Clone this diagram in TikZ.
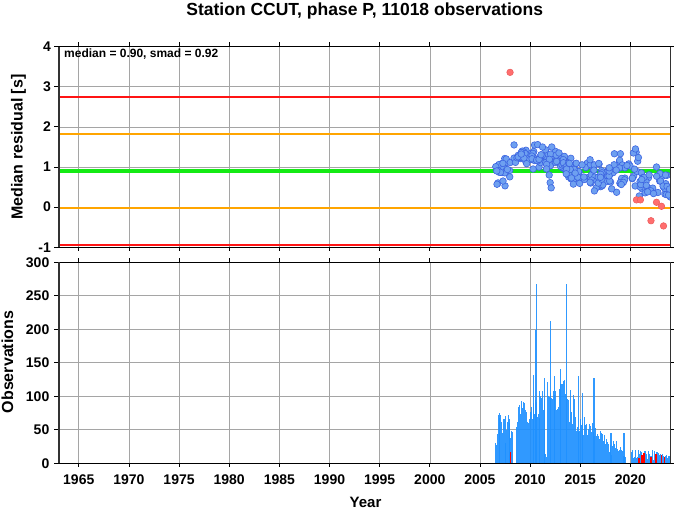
\documentclass[tikz,border=0pt]{standalone}
\usepackage{fontspec}
\setmainfont{Liberation Sans}
\definecolor{gridgray}{RGB}{165,165,165}
\definecolor{thrred}{RGB}{255,20,20}
\definecolor{throrange}{RGB}{255,165,0}
\definecolor{thrgreen}{RGB}{20,235,20}
\definecolor{ptfill}{RGB}{110,160,240}
\definecolor{ptedge}{RGB}{60,100,225}
\definecolor{rpfill}{RGB}{255,110,110}
\definecolor{rpedge}{RGB}{235,90,90}
\definecolor{barblue}{RGB}{30,144,255}
\definecolor{framegray}{RGB}{50,50,50}
\tikzset{
  gridline/.style={draw=gridgray, line width=0.6pt},
  tickline/.style={draw=black, line width=0.8pt},
  ticklab/.style={font=\fontsize{14}{14}\selectfont\bfseries, inner sep=0pt},
  axlab/.style={font=\fontsize{16}{16}\selectfont\bfseries, inner sep=0pt},
  thrline/.style={line width=2pt},
  bluept/.style={fill=ptfill, draw=ptedge, line width=0.6pt},
  redpt/.style={fill=rpfill, draw=rpedge, line width=0.5pt},
  barfill/.style={fill=barblue, fill opacity=0.92},
  redbar/.style={fill=red},
  thickframe/.style={draw=framegray, line width=1.8pt},
  thinframe/.style={draw=black, line width=1pt}
}
\begin{document}
\begin{tikzpicture}[x=1pt,y=1pt]
\useasboundingbox (0,0) rectangle (677,511);
% ---------- vertical grid, year ticks, year labels
\foreach \yr in {1965,1970,...,2020} {
  \pgfmathsetmacro\X{58.7+(\yr-1963)*10.03}
  \draw[gridline] (\X,263.8) -- (\X,464.3);
  \draw[gridline] (\X,47.7) -- (\X,248.7);
  \draw[tickline] (\X,464.3) -- (\X,468.5);
  \draw[tickline] (\X,263.8) -- (\X,259.6);
  \draw[tickline] (\X,248.7) -- (\X,252.9);
  \draw[tickline] (\X,47.7) -- (\X,43.5);
  \node[ticklab,anchor=base] (yl\yr) at (\X,26) {\yr};
}
% ---------- top panel horizontal grid and labels
\foreach \v in {-1,0,1,2,3,4} {
  \pgfmathsetmacro\Y{303.9+40.1*\v}
  \ifnum\v>-1 \ifnum\v<4 \draw[gridline] (58.7,\Y) -- (670.5,\Y); \fi\fi
  \draw[tickline] (58.7,\Y) -- (53.7,\Y);
  \draw[tickline] (670.5,\Y) -- (674,\Y);
  \node[ticklab,anchor=east] (tl\v) at (51,\Y) {\v};
}
% ---------- bottom panel horizontal grid and labels
\foreach \n in {0,50,...,300} {
  \pgfmathsetmacro\Y{47.7+0.67*\n}
  \ifnum\n>0 \ifnum\n<300 \draw[gridline] (58.7,\Y) -- (670.5,\Y); \fi\fi
  \draw[tickline] (58.7,\Y) -- (53.7,\Y);
  \draw[tickline] (670.5,\Y) -- (674,\Y);
  \node[ticklab,anchor=east] (bl\n) at (49.5,\Y) {\n};
}
% ---------- threshold lines
\draw[thrline, thrred] (58.7,{303.9+40.1*2.74}) -- (670.5,{303.9+40.1*2.74});
\draw[thrline, throrange] (58.7,{303.9+40.1*1.82}) -- (670.5,{303.9+40.1*1.82});
\draw[line width=3.4pt, thrgreen] (58.7,{303.9+40.1*0.90}) -- (670.5,{303.9+40.1*0.90});
\draw[thrline, throrange] (58.7,{303.9-40.1*0.02}) -- (670.5,{303.9-40.1*0.02});
\draw[thrline, thrred] (58.7,{303.9-40.1*0.94}) -- (670.5,{303.9-40.1*0.94});
% ---------- scatter points
\begin{scope}
\clip (58.7,263.8) rectangle (670.5,464.3);
\begin{scope}[shift={(58.7pt,303.9pt)}, x=10.03pt, y=40.1pt]
\pgfmathsetseed{271}
\foreach \ta/\tb/\ma/\mb/\s/\nn in {
  2006.5/2008.1/0.90/0.92/0.17/30,
  2008.2/2010.5/1.25/1.30/0.14/38,
  2010.5/2013.6/1.30/1.15/0.17/50,
  2013.6/2015.0/1.02/0.88/0.22/28,
  2015.0/2019.5/0.86/0.74/0.24/68,
  2019.6/2020.8/1.00/0.90/0.25/12,
  2020.8/2024.0/0.62/0.48/0.22/38} {
  \foreach \k in {1,...,\nn} {
    \pgfmathsetmacro\tq{\ta+rnd*(\tb-\ta)}
    \pgfmathsetmacro\vq{\ma+(\tq-\ta)/(\tb-\ta)*(\mb-\ma)+(rand+rand)*\s}
    \pgfmathsetmacro\xq{\tq-1963}
    \path[bluept] (\xq,\vq) circle[radius=3.3pt];
  }
}
\foreach \tq/\vq in {2006.7/0.57, 2007.5/0.53, 2007.3/0.65, 2008.4/1.55,
  2012.0/0.61, 2012.1/0.48, 2011.9/0.80, 2018.4/1.33, 2019.0/1.33,
  2020.3/1.35, 2020.5/1.45, 2022.6/1.00, 2010.3/0.95, 2023.8/0.30,
  2023.5/0.80, 2023.9/0.45} {
  \path[bluept] ({\tq-1963},\vq) circle[radius=3.3pt];
}
\foreach \tq/\vq in {2008.0/3.36, 2020.6/0.18, 2021.0/0.18, 2022.6/0.12,
  2023.1/0.02, 2022.05/-0.34, 2023.3/-0.47} {
  \path[redpt] ({\tq-1963},\vq) circle[radius=3.3pt];
}
\end{scope}
\end{scope}
% ---------- bars
\begin{scope}[shift={(58.7pt,47.7pt)}, x=10.03pt, y=0.67pt]
\pgfmathsetseed{97}
\foreach \ta/\tb/\ha/\hb/\nz in {
  2006.5/2006.7/28/30/4,
  2006.7/2008.0/52/52/24,
  2008.0/2008.3/42/48/10,
  2008.6/2009.0/65/80/16,
  2009.0/2010.0/78/72/16,
  2010.0/2010.5/76/82/16,
  2010.5/2011.0/85/90/24,
  2011.0/2011.5/95/80/28,
  2011.5/2011.7/10/10/4,
  2011.7/2012.3/112/104/22,
  2012.3/2013.5/104/104/26,
  2013.5/2014.5/95/75/26,
  2014.5/2015.5/66/58/18,
  2015.5/2016.3/52/48/14,
  2016.3/2017.5/44/38/10,
  2017.5/2018.0/28/24/9,
  2018.0/2019.4/24/20/11,
  2019.4/2019.6/8/8/3,
  2020.1/2024.0/14/11/7} {
  \pgfmathtruncatemacro\nb{round((\tb-\ta)/0.1)-1}
  \foreach \k in {0,...,\nb} {
    \pgfmathsetmacro\tq{\ta+0.1*\k}
    \pgfmathsetmacro\hq{max(2,\ha+(\tq-\ta)/(\tb-\ta)*(\hb-\ha)+rand*\nz)}
    \pgfmathsetmacro\xq{\tq-1963}
    \fill[barfill] (\xq,0) rectangle ++(0.1,\hq);
  }
}
\foreach \tq/\hq in {2006.9/75, 2007.5/70, 2007.9/60, 2010.25/132, 2010.5/199,
  2010.6/268, 2010.9/108, 2011.4/127, 2011.95/212, 2012.4/130, 2013.0/141,
  2013.6/268, 2014.8/130, 2015.2/105, 2016.3/128, 2018.0/45, 2019.3/45} {
  \fill[barfill] ({\tq-1963},0) rectangle ++(0.12,\hq);
}
\foreach \tq/\hq in {2008.0/17, 2020.8/8, 2021.1/12, 2021.3/15, 2022.0/10,
  2022.5/14, 2023.0/12, 2023.3/10} {
  \fill[redbar] ({\tq-1963},0) rectangle ++(0.12,\hq);
}
\end{scope}
% ---------- frames
\draw[thinframe] (58.7,464.3) -- (670.5,464.3);
\draw[thinframe] (58.7,263.8) -- (670.5,263.8);
\draw[thickframe] (58.7,263.8) -- (58.7,464.3);
\draw[thickframe] (670.5,263.8) -- (670.5,464.3);
\draw[thinframe] (58.7,248.7) -- (670.5,248.7);
\draw[draw=black, line width=1.5pt] (58.7,47.7) -- (670.5,47.7);
\draw[thickframe] (58.7,47.7) -- (58.7,248.7);
\draw[thickframe] (670.5,47.7) -- (670.5,248.7);
% ---------- texts
\node[font=\fontsize{17.5}{17.5}\selectfont\bfseries, inner sep=0pt, anchor=base] (title) at (364.7,495) {Station CCUT, phase P, 11018 observations};
\node[font=\fontsize{12}{12}\selectfont\bfseries, inner sep=0pt, anchor=base west] (stats) at (64,453) {median = 0.90, smad = 0.92};
\node[axlab, rotate=90] (ylab1) at (18.5,364) {Median residual [s]};
\node[axlab, rotate=90] (ylab2) at (7.5,149) {Observations};
\node[font=\fontsize{15}{15}\selectfont\bfseries, inner sep=0pt, anchor=base] (xlab) at (365.5,3) {Year};
\end{tikzpicture}
\end{document}
